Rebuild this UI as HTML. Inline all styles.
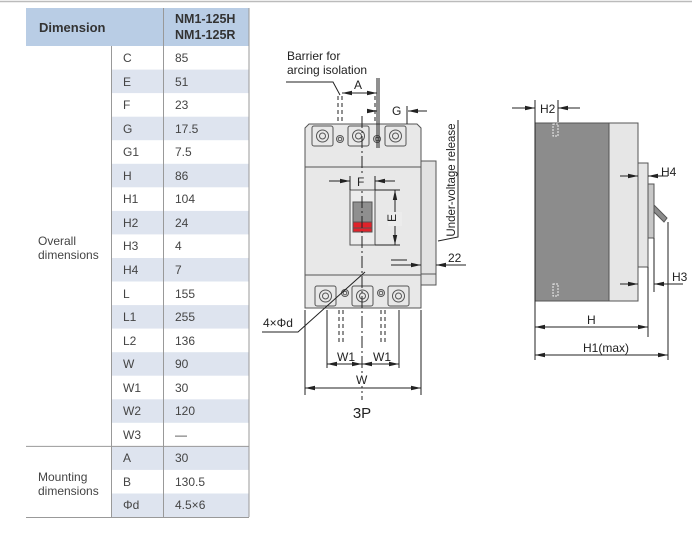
<!DOCTYPE html>
<html><head><meta charset="utf-8"><style>
body{margin:0;background:#fff;}
svg{display:block;font-family:"Liberation Sans","DejaVu Sans",sans-serif;}
</style></head><body>
<svg width="692" height="534" viewBox="0 0 692 534" xmlns="http://www.w3.org/2000/svg">
<defs>
<marker id="ar" markerWidth="10" markerHeight="6" refX="10" refY="3" orient="auto" markerUnits="userSpaceOnUse"><path d="M0,0.8 L10,3 L0,5.2z" fill="#222"/></marker>
</defs>
<line x1="0" y1="1.5" x2="692" y2="1.5" stroke="#bbb" stroke-width="1.5"/>
<!-- table -->
<rect x="26" y="8" width="223" height="38" fill="#b9cde5"/>
<g fill="#dee4ef">
<rect x="112" y="69.6" width="137" height="23.5"/><rect x="112" y="116.7" width="137" height="23.5"/>
<rect x="112" y="163.8" width="137" height="23.5"/><rect x="112" y="210.9" width="137" height="23.5"/>
<rect x="112" y="258" width="137" height="23.5"/><rect x="112" y="305.1" width="137" height="23.5"/>
<rect x="112" y="352.2" width="137" height="23.5"/><rect x="112" y="399.3" width="137" height="23.5"/>
<rect x="112" y="446.4" width="137" height="23.5"/><rect x="112" y="493.5" width="137" height="23.5"/>
</g>
<g stroke="#999" stroke-width="1">
<line x1="163.5" y1="8" x2="163.5" y2="517"/>
<line x1="111.5" y1="46" x2="111.5" y2="517"/>
<line x1="249" y1="8" x2="249" y2="517"/>
<line x1="26" y1="446.4" x2="249" y2="446.4"/>
<line x1="26" y1="517.5" x2="249" y2="517.5"/>
</g>
<g font-size="13" fill="#333">
<text x="39" y="32" font-weight="bold" font-size="13">Dimension</text>
<text x="175" y="23" font-weight="bold" font-size="12.5">NM1-125H</text>
<text x="175" y="39" font-weight="bold" font-size="12.5">NM1-125R</text>
</g>
<g font-size="12" fill="#444">
<text x="123" y="62">C</text><text x="175" y="62">85</text>
<text x="123" y="86">E</text><text x="175" y="86">51</text>
<text x="123" y="109">F</text><text x="175" y="109">23</text>
<text x="123" y="133">G</text><text x="175" y="133">17.5</text>
<text x="123" y="156">G1</text><text x="175" y="156">7.5</text>
<text x="123" y="180">H</text><text x="175" y="180">86</text>
<text x="123" y="203">H1</text><text x="175" y="203">104</text>
<text x="123" y="227">H2</text><text x="175" y="227">24</text>
<text x="123" y="250">H3</text><text x="175" y="250">4</text>
<text x="123" y="274">H4</text><text x="175" y="274">7</text>
<text x="123" y="298">L</text><text x="175" y="298">155</text>
<text x="123" y="321">L1</text><text x="175" y="321">255</text>
<text x="123" y="345">L2</text><text x="175" y="345">136</text>
<text x="123" y="368">W</text><text x="175" y="368">90</text>
<text x="123" y="392">W1</text><text x="175" y="392">30</text>
<text x="123" y="415">W2</text><text x="175" y="415">120</text>
<text x="123" y="439">W3</text><text x="175" y="439">—</text>
<text x="123" y="462">A</text><text x="175" y="462">30</text>
<text x="123" y="486">B</text><text x="175" y="486">130.5</text>
<text x="123" y="509">Φd</text><text x="175" y="509">4.5×6</text>
<text x="38" y="245">Overall</text><text x="38" y="259">dimensions</text>
<text x="38" y="481">Mounting</text><text x="38" y="495">dimensions</text>
</g>

<!-- 3P front view -->
<g stroke="#555" stroke-width="1" fill="none">
<path d="M305,128 L309,124 L417,124 L421,128 L421,308 L305,308 Z" fill="#e8e8e8"/>
<rect x="421" y="161" width="15" height="124" fill="#e2e2e2"/>
<line x1="421" y1="274" x2="436" y2="274"/>
<line x1="305" y1="167" x2="421" y2="167"/>
<line x1="305" y1="275" x2="421" y2="275"/>
<rect x="350" y="190" width="25" height="55" fill="#ececec"/>
<rect x="312" y="126" width="21" height="20" rx="2"/><rect x="348" y="126" width="21" height="20" rx="2"/><rect x="385" y="126" width="21" height="20" rx="2"/>
<circle cx="322.5" cy="136" r="6"/><circle cx="322.5" cy="136" r="3"/>
<circle cx="358.5" cy="136" r="6"/><circle cx="358.5" cy="136" r="3"/>
<circle cx="395.5" cy="136" r="6"/><circle cx="395.5" cy="136" r="3"/>
<circle cx="340" cy="139" r="3.5"/><circle cx="340" cy="139" r="1.8"/>
<circle cx="377" cy="139" r="3.5"/><circle cx="377" cy="139" r="1.8"/>
<rect x="315" y="286" width="21" height="20" rx="2"/><rect x="352" y="286" width="21" height="20" rx="2"/><rect x="388" y="286" width="21" height="20" rx="2"/>
<circle cx="325.5" cy="296" r="6"/><circle cx="325.5" cy="296" r="3"/>
<circle cx="362.5" cy="296" r="6"/><circle cx="362.5" cy="296" r="3"/>
<circle cx="398.5" cy="296" r="6"/><circle cx="398.5" cy="296" r="3"/>
<circle cx="345" cy="293" r="3.5"/><circle cx="345" cy="293" r="1.8"/>
<circle cx="381" cy="293" r="3.5"/><circle cx="381" cy="293" r="1.8"/>
</g>
<rect x="353" y="202" width="19" height="30" fill="#8f8f8f" stroke="#555"/>
<rect x="353" y="222" width="19" height="10" fill="#e0222a" stroke="#555"/>
<line x1="353" y1="228" x2="372" y2="228" stroke="#555"/>
<g stroke="#222" stroke-width="1" fill="none">
<line x1="362" y1="116" x2="362" y2="400" stroke-dasharray="12,3,2,3"/>
<g stroke-dasharray="4,3"><line x1="338" y1="96" x2="338" y2="123"/><line x1="342" y1="96" x2="342" y2="123"/>
<line x1="375" y1="96" x2="375" y2="123"/><line x1="379" y1="96" x2="379" y2="123"/>
<line x1="339" y1="310" x2="339" y2="345"/><line x1="343" y1="310" x2="343" y2="345"/>
<line x1="381" y1="310" x2="381" y2="345"/><line x1="385" y1="310" x2="385" y2="345"/></g>
<polyline points="286,82 333,82 340,95"/>
<line x1="377" y1="78" x2="377" y2="148"/><line x1="379" y1="78" x2="379" y2="148"/>
<line x1="342" y1="93" x2="377" y2="93" marker-end="url(#ar)"/><line x1="377" y1="93" x2="342" y2="93" marker-end="url(#ar)"/>
<line x1="367" y1="111" x2="377" y2="111" marker-end="url(#ar)"/>
<line x1="427" y1="111" x2="408" y2="111" marker-end="url(#ar)"/>
<line x1="407" y1="106" x2="407" y2="124"/>
<line x1="329" y1="181" x2="350" y2="181" marker-end="url(#ar)"/><line x1="395" y1="181" x2="375" y2="181" marker-end="url(#ar)"/>
<line x1="350" y1="176" x2="350" y2="190"/><line x1="375" y1="176" x2="375" y2="190"/>
<line x1="395" y1="190" x2="395" y2="245" marker-end="url(#ar)"/><line x1="395" y1="245" x2="395" y2="190" marker-end="url(#ar)"/>
<line x1="375" y1="190" x2="400" y2="190"/><line x1="375" y1="245" x2="400" y2="245"/>
<polyline points="438,241 458,237 458,120"/>
<line x1="391" y1="260" x2="407" y2="260"/>
<line x1="391" y1="265" x2="421" y2="265" marker-end="url(#ar)"/>
<line x1="466" y1="265" x2="436" y2="265" marker-end="url(#ar)"/>
<polyline points="262,332 298,332 365,272"/>
<line x1="305" y1="310" x2="305" y2="395"/><line x1="421" y1="310" x2="421" y2="395"/>
<line x1="327" y1="310" x2="327" y2="368"/><line x1="399" y1="310" x2="399" y2="368"/>
<line x1="362" y1="388" x2="305" y2="388" marker-end="url(#ar)"/><line x1="362" y1="388" x2="421" y2="388" marker-end="url(#ar)"/>
<line x1="344" y1="364" x2="327" y2="364" marker-end="url(#ar)"/><line x1="344" y1="364" x2="362" y2="364" marker-end="url(#ar)"/>
<line x1="380" y1="364" x2="362" y2="364" marker-end="url(#ar)"/><line x1="380" y1="364" x2="399" y2="364" marker-end="url(#ar)"/>
</g>
<rect x="355" y="174" width="13" height="14" fill="#e8e8e8"/>
<rect x="355" y="374" width="14" height="12" fill="#fff"/>
<rect x="388" y="212" width="14" height="14" fill="#ececec"/>
<g fill="#222" font-size="12">
<text x="287" y="60">Barrier for</text>
<text x="287" y="74">arcing isolation</text>
<text x="354" y="89">A</text>
<text x="392" y="115">G</text>
<text x="357" y="186">F</text>
<text x="396" y="218" transform="rotate(-90 396 218)" text-anchor="middle">E</text>
<text x="455" y="180" transform="rotate(-90 455 180)" text-anchor="middle" font-size="11.5">Under-voltage release</text>
<text x="448" y="262">22</text>
<text x="263" y="327">4×Φd</text>
<text x="337" y="361">W1</text>
<text x="373" y="361">W1</text>
<text x="356" y="384">W</text>
<text x="362" y="418" text-anchor="middle" font-size="15">3P</text>
</g>

<!-- side view -->
<g stroke="#555" stroke-width="1">
<rect x="535" y="123" width="74" height="178" fill="#8c8c8c"/>
<rect x="609" y="123" width="29" height="178" fill="#e6e6e6"/>
<rect x="638" y="163" width="10" height="104" fill="#e6e6e6"/>
<rect x="648" y="184" width="6" height="54" fill="#c8c8c8"/>
<polygon points="654,205 667,218 664,222 654,212" fill="#8c8c8c"/>
</g>
<g stroke="#eee" stroke-width="1" fill="none" stroke-dasharray="2,1">
<rect x="553" y="124" width="5" height="12"/><rect x="553" y="284" width="5" height="12"/>
</g>
<g stroke="#222" stroke-width="1" fill="none">
<line x1="535" y1="100" x2="535" y2="360"/><line x1="558" y1="100" x2="558" y2="122"/>
<line x1="512" y1="108" x2="535" y2="108" marker-end="url(#ar)"/><line x1="580" y1="108" x2="558" y2="108" marker-end="url(#ar)"/>
<line x1="620" y1="176" x2="638" y2="176" marker-end="url(#ar)"/><line x1="668" y1="176" x2="648" y2="176" marker-end="url(#ar)"/>
<line x1="620" y1="284" x2="638" y2="284" marker-end="url(#ar)"/><line x1="683" y1="284" x2="654" y2="284" marker-end="url(#ar)"/>
<line x1="654" y1="238" x2="654" y2="292"/>
<line x1="648" y1="267" x2="648" y2="337"/>
<line x1="668" y1="222" x2="668" y2="360"/>
<line x1="590" y1="327" x2="535" y2="327" marker-end="url(#ar)"/><line x1="590" y1="327" x2="648" y2="327" marker-end="url(#ar)"/>
<line x1="600" y1="355" x2="535" y2="355" marker-end="url(#ar)"/><line x1="600" y1="355" x2="668" y2="355" marker-end="url(#ar)"/>
</g>
<g fill="#222" font-size="12">
<text x="540" y="113">H2</text>
<text x="661" y="176">H4</text>
<text x="672" y="281">H3</text>
<text x="587" y="324">H</text>
<text x="583" y="352">H1(max)</text>
</g>
</svg>
</body></html>
